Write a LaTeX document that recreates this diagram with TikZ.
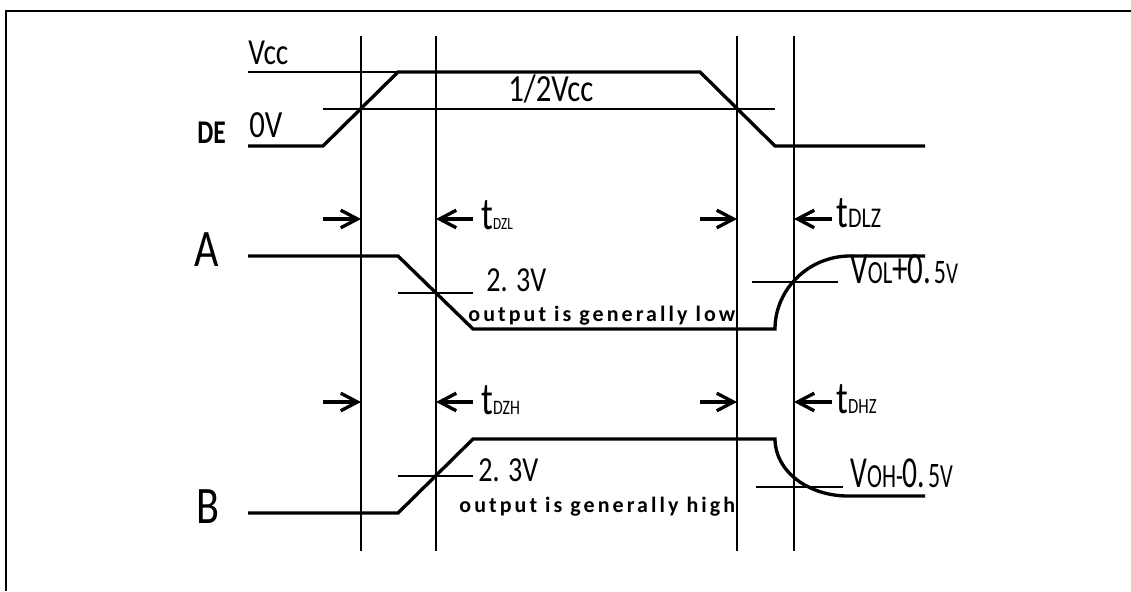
\documentclass[tikz,border=0pt]{standalone}
\usepackage{fontspec}
\usepackage{graphicx}
\setmainfont{Carlito}
\newfontfamily\salida[LetterSpace=14]{Carlito}
\usetikzlibrary{arrows.meta}

\newcommand{\tam}[1]{\fontsize{#1}{#1}\selectfont}
\newcommand{\alto}[2][1.25]{\scalebox{1}[#1]{#2}}

\begin{document}
\begin{tikzpicture}[x=0.02cm, y=-0.02cm,
    senal/.style={line width=1.9pt},
    guia/.style={line width=1pt},
    flecha/.style={line width=1.9pt, -{Straight Barb[length=9.5pt, width=10pt]}},
    etq/.style={anchor=base west, inner sep=0pt}]

        \useasboundingbox (0,0) rectangle (1131,591);

        % Marco
        \draw[line width=1.5pt] (1131,11) -- (6,11) -- (6,591);

        % Lineas verticales de referencia
        \foreach \x/\n in {361/1, 436/2, 737/3, 794/4} {
            \coordinate (v\n) at (\x,36);
            \draw[guia] (v\n) -- (\x,551);
        }

        % Senal DE
        \draw[guia] (248,72) -- (400,72); % nivel Vcc
        \draw[guia] (323,109) -- (775,109); % nivel 1/2 Vcc
        \draw[senal] (248,146) -- (323,146) -- (398,72) -- (700,72) -- (775,146) -- (925,146);

        % Senal A
        \draw[senal] (248,256) -- (398,256) -- (473,329) -- (775,329)
            .. controls (775,289) and (809,256) .. (850,256) -- (925,256);
        \draw[guia] (398,293) -- (473,293); % 2.3V
        \draw[guia] (752,282) -- (838,282); % VOL+0.5V

        % Senal B
        \draw[senal] (248,513) -- (398,513) -- (473,439) -- (775,439)
            .. controls (775,471) and (808,496) .. (848,496) -- (925,496);
        \draw[guia] (398,476) -- (473,476); % 2.3V
        \draw[guia] (756,487) -- (843,487); % VOH-0.5V

        % Flechas de tiempos
        \foreach \y/\f in {219/a, 402/b} {
            \coordinate (\f1) at (323,\y);
            \coordinate (\f2) at (473,\y);
            \coordinate (\f3) at (700,\y);
            \coordinate (\f4) at (832,\y);
            \draw[flecha] (\f1) -- (\f1 -| v1);
            \draw[flecha] (\f2) -- (\f2 -| v2);
            \draw[flecha] (\f3) -- (\f3 -| v3);
            \draw[flecha] (\f4) -- (\f4 -| v4);
        }

        % Etiquetas
        \node[etq, font=\tam{16.7}] (vcc) at (248,65) {\alto{Vcc}};
        \node[etq, font=\tam{17.5}] (medio) at (508,102) {\alto{1/2Vcc}};
        \node[etq, font=\tam{17.5}] (cero) at (249,138) {\alto{0V}};
        \node[etq, font=\bfseries\tam{14.5}] (de) at (197,144) {\alto[1.3]{DE}};
        \node[etq, font=\tam{24}] (la) at (194,266) {\alto[1.25]{A}};
        \node[etq, font=\tam{24}] (lb) at (196,523) {\alto[1.25]{B}};

        \node[etq] (tdzl) at (481,229) {\alto[1.3]{\tam{20}t\tam{7.5}DZL}};
        \node[etq] (tdlz) at (836,227) {\alto[1.3]{\tam{20}t\tam{12.5}DLZ}};
        \node[etq] (tdzh) at (481,414) {\alto[1.3]{\tam{20}t\tam{9}DZH}};
        \node[etq] (tdhz) at (836,413) {\alto[1.3]{\tam{20}t\tam{9.5}DHZ}};

        \node[etq, font=\tam{16}] (va) at (486,291) {\alto{2. 3V}};
        \node[etq, font=\tam{16}] (vb) at (478,481) {\alto{2. 3V}};
        \node[etq, font=\salida\bfseries\tam{12.5}] (baja) at (468,321) {output is generally low};
        \node[etq, font=\salida\bfseries\tam{12.5}] (alta) at (459,512) {output is generally high};

        \node[etq] (vol) at (850,283) {\scalebox{0.8}[1.15]{\tam{22}V\tam{16}OL\tam{22}+0.\hspace{2pt}\tam{17}5\tam{15}V}};
        \node[etq] (voh) at (850,487) {\scalebox{0.8}[1.2]{\tam{21}V\tam{16}OH-\tam{21}0.\hspace{2pt}\tam{17}5\tam{16}V}};

\end{tikzpicture}
\end{document}
